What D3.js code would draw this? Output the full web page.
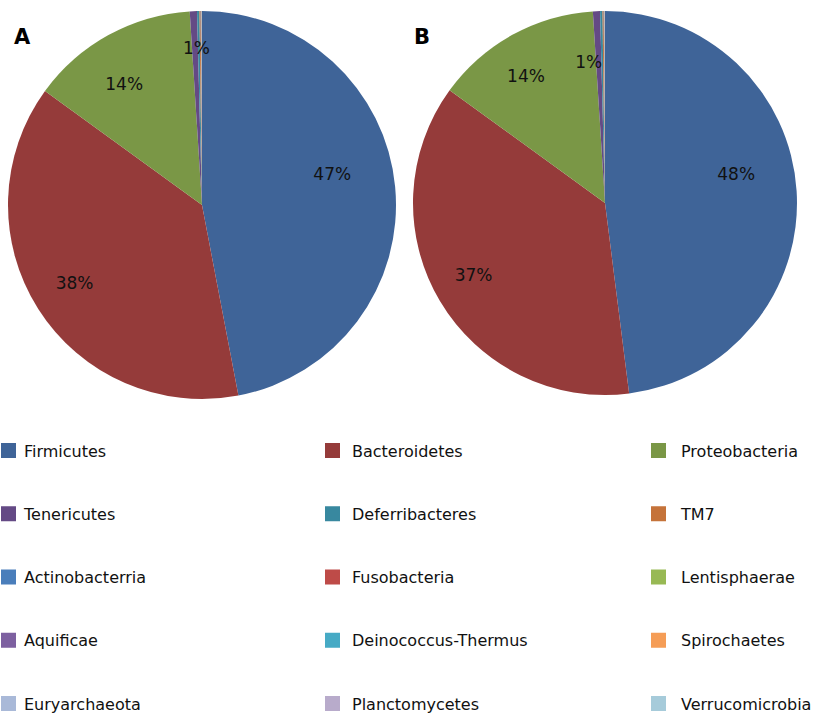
<!DOCTYPE html>
<html>
<head>
<meta charset="utf-8">
<script src="https://cdn.jsdelivr.net/npm/d3@7"></script>
<style>
  html, body { margin: 0; padding: 0; background: #fff; }
  svg { display: block; }
  text { font-family: "DejaVu Sans", Verdana, sans-serif; }
</style>
</head>
<body>
<svg id="chart" width="814" height="715"></svg>
<script>
// Phylum names, in slice order (clockwise from 12 o'clock)
const phyla = [
  "Firmicutes", "Bacteroidetes", "Proteobacteria",
  "Tenericutes", "Deferribacteres", "TM7",
  "Actinobacterria", "Fusobacteria", "Lentisphaerae",
  "Aquificae", "Deinococcus-Thermus", "Spirochaetes",
  "Euryarchaeota", "Planctomycetes", "Verrucomicrobia"
];

// Relative abundance (%) per phylum, group A and group B
const valuesA = [47, 38, 14, 0.6, 0.2, 0.1, 0.03, 0.02, 0.01, 0.01, 0.01, 0.01, 0.005, 0.005, 0.01];
const valuesB = [48, 37, 14, 0.6, 0.2, 0.1, 0.03, 0.02, 0.01, 0.01, 0.01, 0.01, 0.005, 0.005, 0.01];

const panelLabels = ["A", "B"];

const colors = [
  "#3F6498", "#953B3A", "#7A9746",
  "#644A85", "#38889F", "#C5733A",
  "#4A7EBB", "#BE4B48", "#98B954",
  "#7D60A0", "#46AAC5", "#F59D56",
  "#A9B9D8", "#B8ABCB", "#A6CBDA"
];

const svg = d3.select("#chart");

const color = d3.scaleOrdinal().domain(phyla).range(colors);

// Pie layout: start at the top, go clockwise, keep data order
const pie = d3.pie().sort(null).value(d => d.value);

const panels = [
  { label: panelLabels[0], values: valuesA, cx: 202, cy: 205, r: 194, lx: 14, ly: 44,
    // radial fraction and angular nudge (deg) for each printed percentage
    labelR: [0.69, 0.77, 0.74, 0.81], labelNudge: [-8, 1, -4, 0.5] },
  { label: panelLabels[1], values: valuesB, cx: 605, cy: 203, r: 192, lx: 414, ly: 44,
    labelR: [0.70, 0.78, 0.78, 0.74], labelNudge: [-9, 2, -3, -4] }
];

panels.forEach(p => {
  const data = phyla.map((name, i) => ({ name, value: p.values[i] }));
  const total = d3.sum(data, d => d.value);
  const arcs = pie(data);
  const arc = d3.arc().innerRadius(0).outerRadius(p.r);

  const g = svg.append("g").attr("transform", `translate(${p.cx},${p.cy})`);

  g.selectAll("path")
    .data(arcs)
    .join("path")
    .attr("d", arc)
    .attr("fill", d => color(d.data.name));

  // Percent labels for slices that round to at least 1%
  const labelled = arcs.filter(d => Math.round(d.data.value / total * 100) >= 1);
  g.selectAll("text.pct")
    .data(labelled)
    .join("text")
    .attr("class", "pct")
    .attr("transform", (d, i) => {
      const a = (d.startAngle + d.endAngle) / 2 + p.labelNudge[i] * Math.PI / 180;
      const rr = p.r * p.labelR[i];
      return `translate(${rr * Math.sin(a)},${-rr * Math.cos(a)})`;
    })
    .attr("text-anchor", "middle")
    .attr("dominant-baseline", "central")
    .attr("font-size", 17)
    .attr("fill", "#111")
    .text(d => Math.round(d.data.value / total * 100) + "%");

  svg.append("text")
    .attr("x", p.lx)
    .attr("y", p.ly)
    .attr("font-size", 21)
    .attr("font-weight", "bold")
    .attr("font-family", "Liberation Sans, Arial, sans-serif")
    .attr("fill", "#000")
    .text(p.label);
});

// Legend: 3 columns x 5 rows
const colX = d3.scaleOrdinal().domain([0, 1, 2]).range([1, 325, 651]);
const textDx = [23, 27, 30];
const rowY = d3.scaleLinear().domain([0, 4]).range([451, 704]);

const legend = svg.append("g");
const items = legend.selectAll("g")
  .data(phyla)
  .join("g")
  .attr("transform", (d, i) => `translate(${colX(i % 3)},${rowY(Math.floor(i / 3))})`);

items.append("rect")
  .attr("x", 0).attr("y", -8)
  .attr("width", 15).attr("height", 15)
  .attr("fill", d => color(d));

items.append("text")
  .attr("x", (d, i) => textDx[i % 3])
  .attr("y", 0)
  .attr("dominant-baseline", "central")
  .attr("font-size", 16)
  .attr("fill", "#111")
  .text(d => d);
</script>
</body>
</html>
